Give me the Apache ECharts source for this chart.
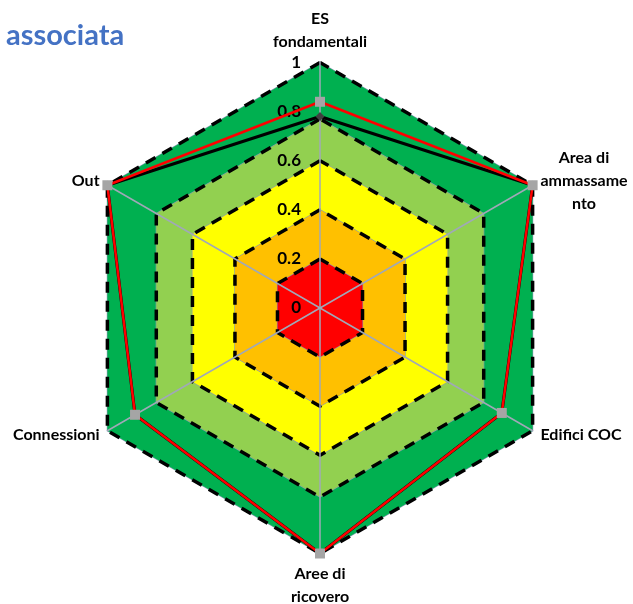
<!DOCTYPE html>
<html><head><meta charset="utf-8">
<script src="https://cdn.jsdelivr.net/npm/echarts@6/dist/echarts.min.js"></script>
<style>html,body{margin:0;padding:0;background:#fff}#c{width:633px;height:604px}</style>
</head><body><div id="c"></div>
<script>
// Categories in clockwise order starting from the top
const categories = ['ES\nfondamentali', 'Area di\nammassame\nnto', 'Edifici COC', 'Aree di\nricovero', 'Connessioni', 'Out'];
const serieRossa = [0.84, 1.0, 0.855, 1.0, 0.87, 1.0];
const serieNera = [0.78, 1.0, 0.855, 1.0, 0.87, 1.0];
const bandLevels = [1.0, 0.77, 0.6, 0.4, 0.2];
const bandColors = ['#00B050', '#92D050', '#FFFF00', '#FFC000', '#FF0000'];
const axisTicks = ['0', '0.2', '0.4', '0.6', '0.8', '1'];
const titleText = 'associata';

// ECharts lays radar indicators counter-clockwise: reorder
const order = [0, 5, 4, 3, 2, 1];
const reorder = arr => order.map(i => arr[i]);

const font = 'Lato, "Open Sans", sans-serif';
const chart = echarts.init(document.getElementById('c'), null, {renderer: 'canvas'});

const indicator = reorder(categories).map((name, k) => {
  const o = {name: name, min: 0, max: 1};
  if (k === 0) o.axisLabel = {show: true};
  return o;
});

const series = [];
bandLevels.forEach((lv, i) => {
  series.push({
    type: 'radar', z: 1, silent: true, symbol: 'none',
    lineStyle: {color: '#8796b4', width: 1.2},
    areaStyle: {color: bandColors[i], opacity: 1},
    data: [{value: categories.map(() => lv)}]
  });
});
series.push({
  type: 'radar', z: 1, silent: true, symbol: 'none',
  lineStyle: {color: '#000', width: 3.5, type: [11, 8]},
  data: bandLevels.map(lv => ({value: categories.map(() => lv)}))
});
series.push({
  type: 'radar', z: 3, symbol: 'diamond', symbolSize: 9,
  itemStyle: {color: '#404040'},
  lineStyle: {color: '#000', width: 3},
  data: [{value: reorder(serieNera)}]
});
series.push({
  type: 'radar', z: 3, symbol: 'rect', symbolSize: 10,
  itemStyle: {color: '#A5A5A5'},
  lineStyle: {color: '#FF0000', width: 2.5},
  data: [{value: reorder(serieRossa)}]
});

chart.setOption({
  animation: false,
  title: {text: titleText, left: 1, top: 16,
    textStyle: {color: '#4472C4', fontFamily: font, fontWeight: 'bold', fontSize: 29}},
  radar: {
    z: 2,
    center: [320, 308], radius: 245.5, startAngle: 90, shape: 'polygon', splitNumber: 5,
    indicator: indicator,
    nameGap: 9,
    axisName: {
      color: '#000', fontFamily: font, fontWeight: 'bold', fontSize: 16, lineHeight: 23,
      formatter: n => n.split('\n').map(s => '{c|' + s + '}').join('\n'),
      rich: {c: {align: 'center', color: '#000', fontFamily: font, fontWeight: 'bold', fontSize: 16, lineHeight: 23}}
    },
    axisLine: {show: true, lineStyle: {color: '#a0a8b8', width: 1.5}},
    splitLine: {show: false},
    splitArea: {show: false},
    axisTick: {show: false},
    axisLabel: {show: false, color: '#000', fontFamily: font, fontWeight: 'bold', fontSize: 17, margin: 19,
      formatter: (v, idx) => axisTicks[idx] != null ? axisTicks[idx] : String(v)}
  },
  series: series
});
</script></body></html>
